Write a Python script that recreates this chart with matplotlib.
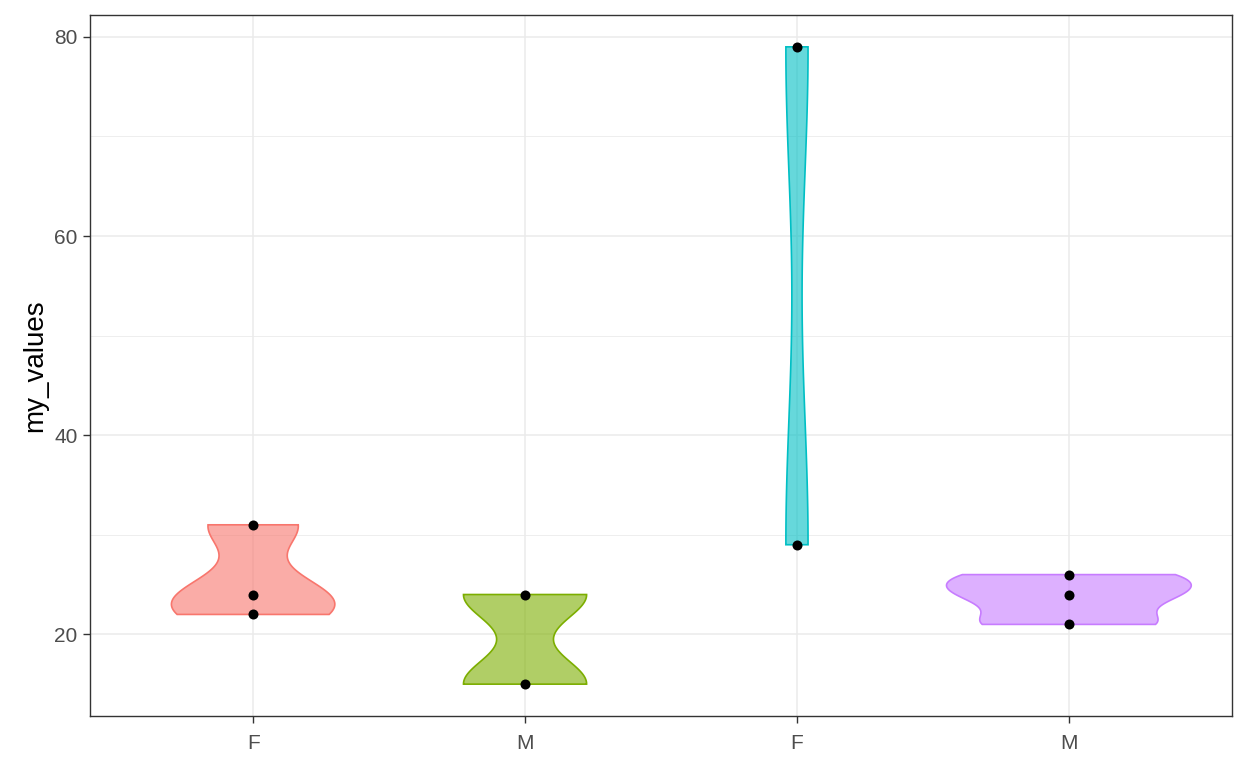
import numpy as np
import matplotlib.pyplot as plt

# Data
tick_labels = ["F", "M", "F", "M"]
group_a = [22, 24, 31]
group_b = [15, 24]
group_c = [29, 79]
group_d = [21, 24, 26]
groups = [group_a, group_b, group_c, group_d]
colors = ["#F8766D", "#7CAE00", "#00BFC4", "#C77CFF"]


def bw_nrd0(x):
    x = np.asarray(x, float)
    sd = np.std(x, ddof=1)
    iqr = np.subtract(*np.percentile(x, [75, 25])) / 1.34
    lo = min(sd, iqr) if iqr > 0 else sd
    return 0.9 * lo * len(x) ** -0.2


def kde(x, grid):
    x = np.asarray(x, float)
    bw = bw_nrd0(x)
    z = (grid[:, None] - x[None, :]) / bw
    return np.exp(-0.5 * z ** 2).sum(axis=1) / (len(x) * bw * np.sqrt(2 * np.pi))


plt.rcParams["font.family"] = ["Liberation Sans", "DejaVu Sans"]

fig = plt.figure(figsize=(12.48, 7.68), dpi=100)
ax = fig.add_axes([0.0721, 0.0677, 0.9151, 0.9128])

# densities (trimmed to data range, like ggplot's default)
dens = []
for vals in groups:
    grid = np.linspace(min(vals), max(vals), 512)
    dens.append((grid, kde(vals, grid)))
dmax = max(d.max() for _, d in dens)

for i, (vals, (grid, d), col) in enumerate(zip(groups, dens, colors)):
    pos = i + 1
    w = 0.45 * d / dmax
    xs = np.concatenate([pos - w, (pos + w)[::-1]])
    ys = np.concatenate([grid, grid[::-1]])
    ax.fill(xs, ys, facecolor=col, alpha=0.6, edgecolor="none", zorder=3)
    ax.fill(xs, ys, facecolor="none", edgecolor=col, linewidth=1.2, zorder=3)
    ax.scatter([pos] * len(vals), vals, s=52, color="black", zorder=4, linewidths=0)

ax.set_xlim(0.4, 4.6)
ax.set_ylim(11.8, 82.2)
ax.set_xticks([1, 2, 3, 4])
ax.set_xticklabels(tick_labels)
ax.set_yticks([20, 40, 60, 80])
ax.set_yticks([30, 50, 70], minor=True)
ax.tick_params(axis="x", which="minor", bottom=False)
ax.tick_params(axis="both", which="major", labelsize=15, colors="#333333",
               length=5, width=1.0, labelcolor="#4D4D4D")
ax.tick_params(axis="x", which="major", pad=8)
ax.tick_params(axis="y", which="major", pad=4)
ax.tick_params(axis="y", which="minor", left=False)
ax.grid(True, which="major", color="#EBEBEB", linewidth=1.1, zorder=0)
ax.grid(True, which="minor", axis="y", color="#EBEBEB", linewidth=0.6, zorder=0)
ax.set_axisbelow(True)
for sp in ax.spines.values():
    sp.set_color("#333333")
    sp.set_linewidth(1.0)

ax.set_ylabel("my_values", fontsize=20, color="black", labelpad=4)

fig.savefig("out.png", dpi=100)
